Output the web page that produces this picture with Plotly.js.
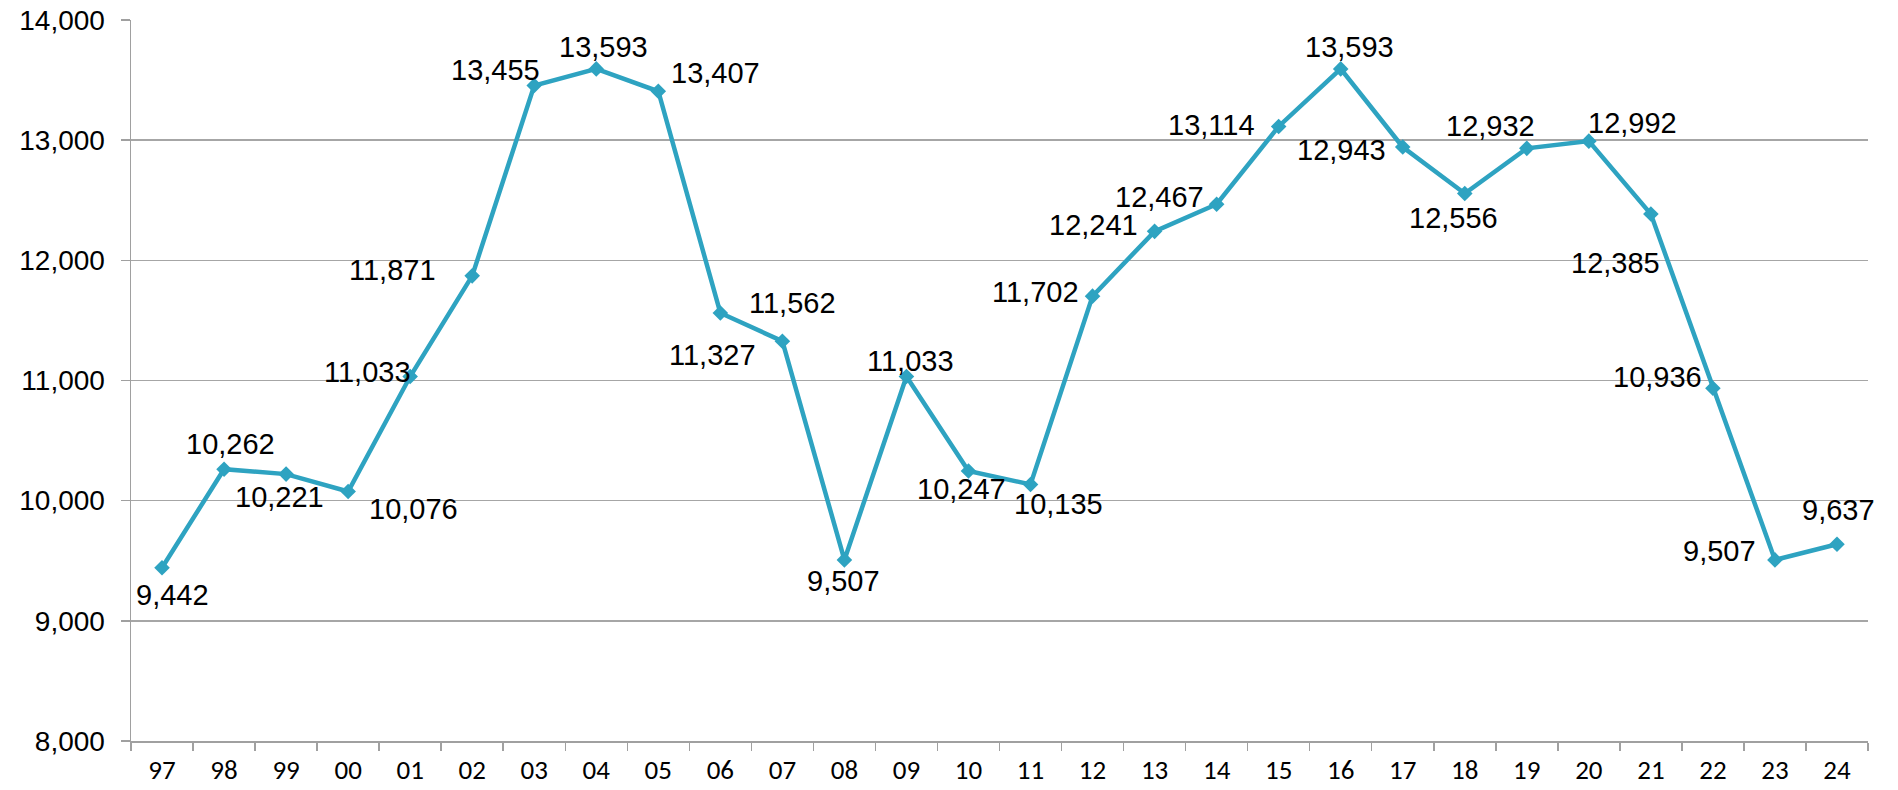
<!DOCTYPE html>
<html>
<head>
<meta charset="utf-8">
<script src="https://cdn.plot.ly/plotly-3.0.1.min.js"></script>
<style>html,body{margin:0;padding:0;background:#fff;}#chart{width:1898px;height:790px;}</style>
</head>
<body>
<div id="chart"></div>
<script>
// Data
const years = ['97','98','99','00','01','02','03','04','05','06','07','08','09','10','11','12','13','14','15','16','17','18','19','20','21','22','23','24'];
const values = [9442,10262,10221,10076,11033,11871,13455,13593,13407,11562,11327,9507,11033,10247,10135,11702,12241,12467,13114,13593,12943,12556,12932,12992,12385,10936,9507,9637];
const yTicks = [8000,9000,10000,11000,12000,13000,14000];

// Label placement offsets (px, dx right, dy down) – styling only
const labelDx = [10,6,-7,65,-43,-80,-39,7,57,72,-70,-1,4,-7,28,-57,-61,-57,-67,9,-61,-11,-36,44,-35,-55,-55,2];
const labelDy = [27,-25,23,17,-5,-6,-15,-22,-18,-10,14,21,-16,18,20,-4,-6,-7,-1,-22,3,24,-22,-18,49,-11,-9,-34];

const lineColor = '#2EA3C1';
const fmt = v => v.toLocaleString('en-US');

const annotations = values.map((v, i) => ({
  x: i, y: v, xref: 'x', yref: 'y',
  text: fmt(v), showarrow: false,
  xshift: labelDx[i], yshift: -labelDy[i],
  font: {family: 'Arial, "Liberation Sans", sans-serif', size: 29, color: '#000'}
}));

const trace = {
  x: years, y: values, type: 'scatter', mode: 'lines+markers',
  line: {color: lineColor, width: 4.5},
  marker: {symbol: 'diamond', size: 12, color: lineColor},
  hoverinfo: 'x+y'
};

const layout = {
  width: 1898, height: 790,
  margin: {l: 131, r: 30, t: 20, b: 49, pad: 0},
  paper_bgcolor: '#fff', plot_bgcolor: '#fff',
  showlegend: false,
  xaxis: {
    type: 'category', range: [-0.5, years.length - 0.5],
    tickson: 'boundaries', ticks: 'outside', ticklen: 8, tickcolor: '#A0A0A0', tickwidth: 1.5,
    showline: true, linecolor: '#A0A0A0', linewidth: 1.5,
    showgrid: false, zeroline: false,
    tickfont: {family: 'Carlito, Calibri, Lato, sans-serif', size: 27, color: '#000'},
    ticklabelstandoff: 4
  },
  yaxis: {
    range: [8000, 14000], tickvals: yTicks, tickformat: ',',
    ticks: 'outside', ticklen: 9, tickcolor: '#A0A0A0', tickwidth: 1.5,
    showline: true, linecolor: '#A0A0A0', linewidth: 1.5,
    showgrid: true, gridcolor: '#A6A6A6', gridwidth: 1.5,
    zeroline: false,
    tickfont: {family: 'Arial, "Liberation Sans", sans-serif', size: 28, color: '#000'},
    ticklabelstandoff: 10
  },
  annotations: annotations
};

Plotly.newPlot('chart', [trace], layout, {displayModeBar: false, staticPlot: true});
</script>
</body>
</html>
